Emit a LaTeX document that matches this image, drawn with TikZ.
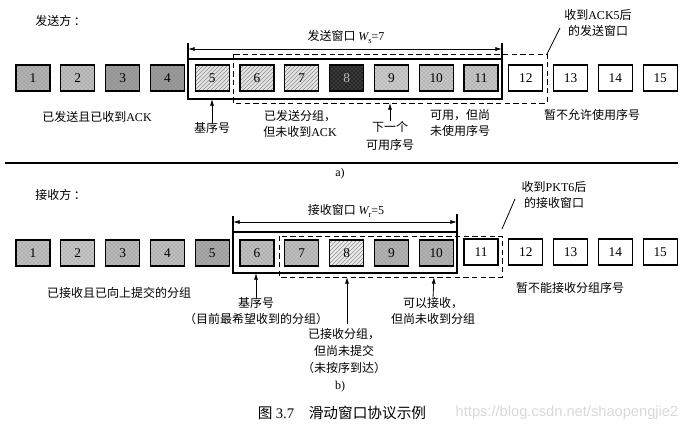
\documentclass[tikz,border=0pt]{standalone}
\usepackage{fontspec}
\setmainfont{Liberation Serif}
\setsansfont{Liberation Sans}
\newfontfamily\cjk{Noto Sans CJK SC}
\usetikzlibrary{patterns,arrows.meta}
\newcommand{\wsub}[1]{{\rmfamily\itshape W}\raisebox{-1.8pt}{\rmfamily\fontsize{6.5}{6.5}\selectfont #1}}
\begin{document}
\begin{tikzpicture}[x=0.75pt,y=-0.75pt,
  pkt/.style={draw,line width=0.8pt,minimum width=25.5pt,minimum height=19.5pt,inner sep=0pt,font=\fontsize{10}{10}\selectfont},
  lbl/.style={font=\cjk\fontsize{9}{11.5}\selectfont,align=center,inner sep=0pt},
  shade/.style={preaction={fill=#1},pattern=crosshatch dots,pattern color=black!50},
  hatch/.style={preaction={fill=#1},pattern=north east lines,pattern color=black!45},
  win/.style={line width=0.8pt},
  dwin/.style={line width=0.7pt,dash pattern=on 4pt off 2.5pt},
  arr/.style={-{Latex[length=5pt,width=3pt]},line width=0.6pt}]
\useasboundingbox (0,0) rectangle (697,429);
\fill[white] (0,0) rectangle (697,429);

% ---------------- sender ----------------
\node[lbl,anchor=west] (sndtitle) at (35,21) {发送方 ：};
\node[pkt,shade=gray!60] (t1) at (33,78) {1};
\node[pkt,shade=gray!50] (t2) at (77.8,78) {2};
\node[pkt,shade=gray!78] (t3) at (122.6,78) {3};
\node[pkt,shade=gray!80] (t4) at (167.4,78) {4};
\node[pkt,hatch=gray!20] (t5) at (212.2,78) {5};
\node[pkt,hatch=gray!20] (t6) at (257,78) {6};
\node[pkt,hatch=gray!20] (t7) at (301.8,78) {7};
\node[pkt,shade=black!85,text=gray!55] (t8) at (346.6,78) {8};
\node[pkt,shade=gray!40] (t9) at (391.4,78) {9};
\node[pkt,shade=gray!45] (t10) at (436.2,78) {10};
\node[pkt,shade=gray!45] (t11) at (481,78) {11};
\node[pkt] (t12) at (525.8,78) {12};
\node[pkt] (t13) at (570.6,78) {13};
\node[pkt] (t14) at (615.4,78) {14};
\node[pkt] (t15) at (660.2,78) {15};

% send window
\coordinate (swa) at (188,59);
\coordinate (swb) at (502,99);
\draw[win] (swa) rectangle (swb);
\coordinate (swtl) at (188,43);
\coordinate (swtr) at (502,43);
\coordinate (swar) at (188,49);
\coordinate (swbr) at (502,49);
\draw[win] (swa) -- (swtl);
\draw[win] (502,59) -- (swtr);
\draw[arr,{Latex[length=5pt,width=3pt]}-{Latex[length=5pt,width=3pt]}] (swar) -- (swbr);
\node[lbl] (swlabel) at (346,37) {发送窗口 \wsub{s}{\rmfamily =7}};

% dashed window after ACK5
\coordinate (sda) at (233,54);
\coordinate (sdb) at (547,103);
\draw[dwin] (sda) rectangle (sdb);
\coordinate (sdc) at (547,54);
\coordinate (sdd) at (560,28);
\draw[line width=0.6pt] (sdc) -- (sdd);
\node[lbl] (ack5) at (598,23) {收到{\rmfamily ACK5}后\\的发送窗口};

% sender labels
\node[lbl] (acked) at (97,117) {已发送且已收到{\rmfamily ACK}};
\node[lbl] (sbase) at (212,128) {基序号};
\coordinate (sbasetop) at (212,99);
\draw[arr] (sbase.north) -- (sbasetop);
\node[lbl] (sent) at (300,124) {已发送分组，\\但未收到{\rmfamily ACK}};
\node[lbl,font=\cjk\fontsize{9}{13.5}\selectfont] (next) at (390,136) {下一个\\可用序号};
\coordinate (nexttop) at (390,103);
\draw[arr] (next.north) -- (nexttop);
\node[lbl] (usable) at (460,123) {可用，但尚\\未使用序号};
\node[lbl] (notallow) at (592,115) {暂不允许使用序号};

% separator
\coordinate (sepl) at (5,163);
\coordinate (sepr) at (678,163);
\draw[line width=1pt] (sepl) -- (sepr);
\node[font=\fontsize{9}{9}\selectfont] (cap_a) at (340,174) {a)};

% ---------------- receiver ----------------
\node[lbl,anchor=west] (rcvtitle) at (35,195) {接收方 ：};
\node[pkt,shade=gray!50] (b1) at (33,253) {1};
\node[pkt,shade=gray!45] (b2) at (77.8,253) {2};
\node[pkt,shade=gray!55] (b3) at (122.6,253) {3};
\node[pkt,shade=gray!50] (b4) at (167.4,253) {4};
\node[pkt,shade=gray!68] (b5) at (212.2,253) {5};
\node[pkt,shade=gray!50] (b6) at (257,253) {6};
\node[pkt,shade=gray!50] (b7) at (301.8,253) {7};
\node[pkt,hatch=gray!15] (b8) at (346.6,253) {8};
\node[pkt,shade=gray!60] (b9) at (391.4,253) {9};
\node[pkt,shade=gray!60] (b10) at (436.2,253) {10};
\node[pkt] (b11) at (481,252) {11};
\node[pkt] (b12) at (525.8,252) {12};
\node[pkt] (b13) at (570.6,252) {13};
\node[pkt] (b14) at (615.4,252) {14};
\node[pkt] (b15) at (660.2,252) {15};

% receive window
\coordinate (rwa) at (233,232);
\coordinate (rwb) at (457,273);
\draw[win] (rwa) rectangle (rwb);
\coordinate (rwtl) at (233,216);
\coordinate (rwtr) at (457,214);
\coordinate (rwar) at (233,222);
\coordinate (rwbr) at (457,222);
\draw[win] (rwa) -- (rwtl);
\draw[win] (457,232) -- (rwtr);
\draw[arr,{Latex[length=5pt,width=3pt]}-{Latex[length=5pt,width=3pt]}] (rwar) -- (rwbr);
\node[lbl] (rwlabel) at (346,211) {接收窗口 \wsub{r}{\rmfamily =5}};

% dashed window after PKT6
\coordinate (rda) at (279,236);
\coordinate (rdb) at (502,277);
\draw[dwin] (rda) rectangle (rdb);
\coordinate (rdc) at (502,229);
\coordinate (rdd) at (515,199);
\draw[line width=0.6pt] (rdc) -- (rdd);
\node[lbl] (pkt6) at (554,195) {收到{\rmfamily PKT6}后\\的接收窗口};

% receiver labels
\node[lbl] (delivered) at (119,293) {已接收且已向上提交的分组};
\node[lbl] (rbase) at (256,311) {基序号\\（目前最希望收到的分组）};
\coordinate (rbasetop) at (256,273);
\draw[arr] (rbase.north) -- (rbasetop);
\node[lbl,font=\cjk\fontsize{9}{12.5}\selectfont] (buffered) at (344,351) {已接收分组，\\但尚未提交\\（未按序到达）};
\coordinate (buftop) at (347,277);
\coordinate (bufbot) at (347,324);
\draw[arr] (bufbot) -- (buftop);
\node[lbl] (accept) at (433,311) {可以接收，\\但尚未收到分组};
\coordinate (acctop) at (434,277);
\draw[arr] (accept.north) -- (acctop);
\node[lbl] (cannot) at (570,288) {暂不能接收分组序号};

\node[font=\fontsize{9}{9}\selectfont] (cap_b) at (340,387) {b)};
\node[font=\cjk\fontsize{11}{11}\selectfont] (caption) at (342,413) {图 {\rmfamily 3.7}\quad 滑动窗口协议示例};
\node[font=\sffamily\fontsize{11}{11}\selectfont,text=gray!30] (wm) at (567,413) {https://blog.csdn.net/shaopengjie2};
\end{tikzpicture}
\end{document}
